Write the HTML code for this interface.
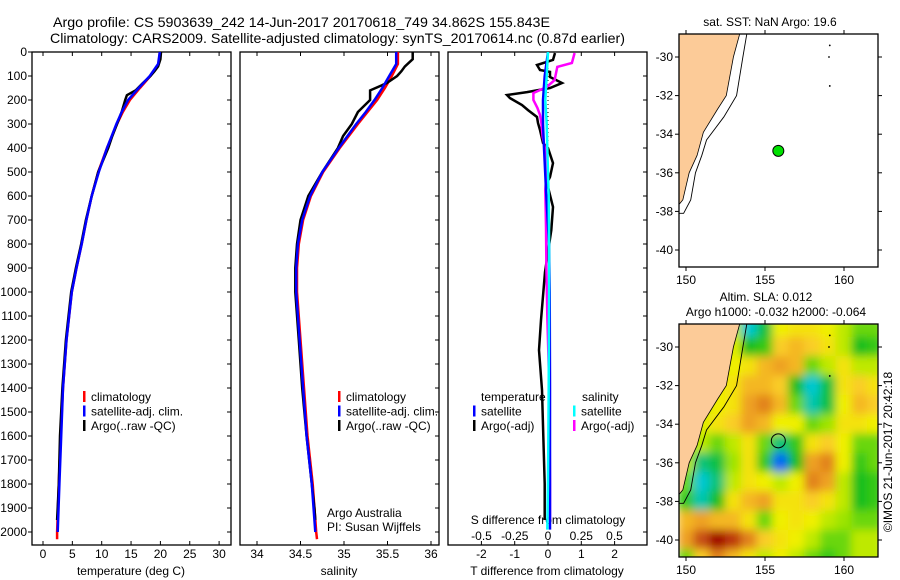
<!DOCTYPE html>
<html><head><meta charset="utf-8"><style>
html,body{margin:0;padding:0;background:#fff;}
svg{display:block;font-family:"Liberation Sans",sans-serif;}
</style></head><body>
<svg id="fig" width="900" height="580" viewBox="0 0 900 580" xmlns="http://www.w3.org/2000/svg">
<defs>
<clipPath id="clipT"><rect x="32" y="52" width="199" height="493"/></clipPath>
<clipPath id="clipS"><rect x="240" y="52" width="199" height="493"/></clipPath>
<clipPath id="clipD"><rect x="448" y="52" width="199" height="493"/></clipPath>
<clipPath id="clipM2"><rect x="679" y="324" width="199" height="233"/></clipPath>
<clipPath id="clipM1"><rect x="679" y="34" width="199" height="233"/></clipPath>
<filter id="blur" x="-5%" y="-5%" width="110%" height="110%"><feGaussianBlur stdDeviation="4.5"/></filter>
</defs>
<text x="53" y="27" font-size="14" textLength="497" lengthAdjust="spacingAndGlyphs">Argo profile: CS 5903639_242 14-Jun-2017 20170618_749 34.862S 155.843E</text>
<text x="50" y="43" font-size="14" textLength="575" lengthAdjust="spacingAndGlyphs">Climatology: CARS2009. Satellite-adjusted climatology: synTS_20170614.nc (0.87d earlier)</text>
<g id="axes"></g>
<g id="series"></g>
<g id="maps"></g>
</svg>
<script>
// ---- data ----
const climDepth=[0,50,100,150,200,250,300,400,500,600,700,800,900,1000,1200,1400,1600,1800,2000,2030];
const tempClim=[19.9,19.7,18.3,16.5,14.8,13.6,12.6,10.9,9.4,8.3,7.4,6.6,5.7,4.9,4.0,3.4,3.0,2.7,2.4,2.4];
const tempSat=[19.9,19.6,18.2,16.3,14.5,13.4,12.5,10.9,9.5,8.3,7.4,6.6,5.7,4.9,4.0,3.4,3.1,2.8,2.5,2.5];
const argoDepth=[0,30,60,80,100,130,160,180,200,250,300,350,400,500,600,700,800,900,1000,1200,1400,1600,1800,1900,1950];
const tempArgo=[20.1,20,19.6,19,18.3,17,15.8,14.3,14,13.4,12.6,11.8,11.1,9.4,8.3,7.3,6.5,5.6,4.8,3.9,3.3,2.9,2.7,2.5,2.4];
const salClim=[35.62,35.62,35.55,35.47,35.38,35.27,35.16,34.95,34.76,34.62,34.53,34.48,34.46,34.46,34.5,34.54,34.58,34.64,34.68,34.69];
const salSat=[35.6,35.6,35.52,35.44,35.35,35.25,35.14,34.94,34.75,34.61,34.52,34.47,34.45,34.45,34.49,34.53,34.57,34.63,34.67,34.67];
const salArgo=[35.79,35.79,35.7,35.66,35.61,35.49,35.3,35.3,35.3,35.16,35.09,34.99,34.93,34.75,34.59,34.5,34.46,34.44,34.44,34.48,34.52,34.57,34.63,34.66,34.67];
const dTDepth=[4,33,54,75,83,104,129,150,167,179,192,221,242,271,296,325,379,400,463,521,546,646,742,917,1117,1242,1408,1600,1800,1950];
const dTArgo=[0.21,0.15,-0.33,-0.24,0.06,0.06,0.42,0.06,-0.63,-1.23,-1.14,-0.78,-0.6,-0.33,-0.3,-0.24,-0.15,0,0.15,0.06,-0.03,0.15,0.1,-0.09,-0.21,-0.27,-0.18,-0.14,-0.1,-0.1];
const dSDepth=[4,46,62,117,146,171,200,233,262,296,354,438,492,575,729,900,1100,1400,1800,1950];
const dSArgo=[0.2,0.18,0.07,0.05,-0.01,-0.11,-0.11,-0.08,-0.06,-0.05,-0.04,-0.01,-0.01,-0.02,-0.015,-0.012,-0.005,0.01,0.015,0.015];
const satDiffDepth=[0,100,200,300,400,600,800,1000,1400,1800,1990];
const dTSat=[0,-0.1,-0.15,-0.15,-0.12,-0.05,0.03,0.05,0.06,0.06,0.06];
const dSSat=[0,-0.01,-0.02,-0.01,-0.005,0.005,0.008,0.008,0.005,0,-0.005];
const depthTicks=[0,100,200,300,400,500,600,700,800,900,1000,1100,1200,1300,1400,1500,1600,1700,1800,1900,2000];
const tempTicks=[0,5,10,15,20,25,30];
const salTicks=[34,34.5,35,35.5,36];
const dTTicks=[-2,-1,0,1,2];
const dSTicks=[-0.5,-0.25,0,0.25,0.5];
const dSTickLabels=["-0.5","-0.25","0","0.25","0.5"];
const lonTicks=[150,155,160];
const latTicks=[-30,-32,-34,-36,-38,-40];
const gridLons=[150,151,152,153,154,155,156,157,158,159,160,161,162];
const gridLats=[-29,-30,-31,-32,-33,-34,-35,-36,-37,-38,-39,-40,-41];
const slaGrid=[
[0,0,0,0,-0.2,-0.12,0.03,0.05,0.05,0.03,0,-0.05,-0.05],
[0,0,0,0.02,-0.1,-0.08,0.08,0.1,0.08,0.05,0,-0.1,-0.08],
[0,0,0,0.03,0.05,0.1,0.12,0.1,-0.05,0,0.05,0,0],
[0,0,0.03,0.05,0.1,0.1,0.08,-0.1,-0.2,-0.12,0.05,0.08,0.05],
[0,0,0.03,0.05,0.12,0.15,0.1,-0.05,-0.18,-0.12,0.03,0.1,0.08],
[0,0.02,0.05,0.08,0.12,0.1,0.03,0.03,-0.05,-0.02,0.05,0.05,0.03],
[0,0,-0.05,0,0.05,-0.05,-0.15,-0.08,0.05,0.08,0.03,-0.05,-0.05],
[0,-0.15,-0.12,-0.02,0.05,-0.08,-0.28,-0.1,0.12,0.15,0.03,-0.08,-0.05],
[-0.05,-0.2,-0.15,0,0.05,0.03,0,0.03,0.15,0.12,0,-0.1,-0.08],
[-0.08,-0.18,-0.1,0.05,0.1,0.12,0.05,0.05,0.08,0.05,0,-0.1,-0.08],
[0.1,0.12,0.1,0.1,0.05,-0.05,0.03,0.05,0.03,0,-0.02,-0.05,-0.05],
[0.12,0.2,0.3,0.22,0.15,0.08,0.05,0.03,0,-0.05,-0.05,0,0],
[-0.05,0.08,0.15,0.1,0.05,0,0.03,0,-0.05,-0.08,-0.05,0,0]];
const coastLon=[153.4,153.0,152.55,152.0,151.1,150.7,150.2,149.8,149.6];
const coastLat=[-28.8,-30,-32,-32.7,-33.9,-35.1,-36,-37.4,-37.6];
const contourLon=[153.85,153.6,153.2,152.4,151.3,151.0,150.6,150.3,149.85,149.56];
const contourLat=[-28.8,-30,-32,-33.1,-34.3,-35.1,-36,-37.4,-38.1,-38.1];
const argoLon=155.843, argoLat=-34.862;

// ---- scales ----
const NS="http://www.w3.org/2000/svg";
const yD=d=>52+d*0.24;
const xT=v=>43+v*5.87;
const xS=v=>257+(v-34)*87;
const xdT=v=>548+v*33.3;
const xdS=v=>548+v*133;
const mx=lon=>686+(lon-150)*15.8;
const myTop=lat=>57+(-30-lat)*19.3;
const myBot=lat=>347+(-30-lat)*19.3;
function el(tag,attrs,parent){const e=document.createElementNS(NS,tag);for(const k in attrs)e.setAttribute(k,attrs[k]);parent.appendChild(e);return e;}
const axes=document.getElementById('axes'), series=document.getElementById('series'), maps=document.getElementById('maps');

// ---- panels ----
const panels=[{x:32,name:'temperature-panel',ticks:tempTicks,labels:tempTicks.map(String),sx:xT,title:'temperature (deg C)'},
 {x:240,name:'salinity-panel',ticks:salTicks,labels:salTicks.map(String),sx:xS,title:'salinity'},
 {x:448,name:'difference-panel',ticks:dTTicks,labels:dTTicks.map(String),sx:xdT,title:'T difference from climatology'}];
panels.forEach(p=>{
 const g=el('g',{},axes);
 
 
 el('rect',{x:p.x,y:52,width:199,height:493,fill:'none',stroke:'#000','stroke-width':1.3},g);
 p.ticks.forEach((t,i)=>{
  const x=p.sx(t);
  el('line',{x1:x,x2:x,y1:545,y2:541,stroke:'#000'},g);
  el('line',{x1:x,x2:x,y1:52,y2:56,stroke:'#000'},g);
  const tx=el('text',{x:x,y:558,'font-size':12,'text-anchor':'middle'},g);tx.textContent=p.labels[i];
  
  
 });
 depthTicks.forEach(d=>{el('line',{x1:p.x+199,x2:p.x+195,y1:yD(d),y2:yD(d),stroke:'#000'},g);});
 const tt=el('text',{x:p.x+99,y:575,'font-size':12,'text-anchor':'middle'},g);tt.textContent=p.title;
 
 
});
depthTicks.forEach(d=>{
 el('line',{x1:28,x2:32,y1:yD(d),y2:yD(d),stroke:'#000'},axes);
 const t=el('text',{x:27,y:yD(d)+4,'font-size':12,'text-anchor':'end'},axes);t.textContent=d;
 
 
});
dSTicks.forEach((t,i)=>{
 const tx=el('text',{x:xdS(t),y:540,'font-size':12,'text-anchor':'middle'},axes);tx.textContent=dSTickLabels[i];
 
 
});
{const t=el('text',{x:548,y:524,'font-size':12,'text-anchor':'middle'},axes);t.textContent='S difference from climatology';
 
 }
el('line',{x1:548,x2:548,y1:52,y2:yD(420),stroke:'#000','stroke-dasharray':'1,3'},axes);

function line(xs,ds,sx,color,clip,name,w){
 const pts=xs.map((v,i)=>sx(v).toFixed(1)+','+yD(ds[i]).toFixed(1)).join(' ');
 const pl=el('polyline',{points:pts,fill:'none',stroke:color,'stroke-width':w||2.5,'clip-path':'url(#'+clip+')'},series);
 
 
}
line(tempClim,climDepth,xT,'#ff0000','clipT','temp-climatology-line');
line(tempArgo,argoDepth,xT,'#000','clipT','temp-argo-line');
line(tempSat,climDepth.slice(0,19),xT,'#0000ff','clipT','temp-satellite-line');
line(salClim,climDepth,xS,'#ff0000','clipS','sal-climatology-line');
line(salArgo,argoDepth,xS,'#000','clipS','sal-argo-line');
line(salSat,climDepth.slice(0,19),xS,'#0000ff','clipS','sal-satellite-line');
line(dTArgo,dTDepth,xdT,'#000','clipD','t-diff-argo-line');
line(dSArgo,dSDepth,xdS,'#ff00ff','clipD','s-diff-argo-line');
line(dTSat,satDiffDepth,xdT,'#0000ff','clipD','t-diff-satellite-line');
line(dSSat,satDiffDepth,xdS,'#00ffff','clipD','s-diff-satellite-line');

function legend(x,y,color,label,name){
 const g=el('g',{},axes);
 
 
 el('rect',{x:x,y:y-6,width:2.5,height:11,fill:color},g);
 const t=el('text',{x:x+8,y:y+4,'font-size':12},g);t.textContent=label;
}
[['#ff0000','climatology'],['#0000ff','satellite-adj. clim.'],['#000','Argo(..raw -QC)']].forEach((l,i)=>{
 legend(83,397+i*14.5,l[0],l[1],'temp-legend-entry');
 legend(338,397+i*14.5,l[0],l[1],'sal-legend-entry');
});
{const t=el('text',{x:481,y:401,'font-size':12},axes);t.textContent='temperature';
 }
{const t=el('text',{x:582,y:401,'font-size':12},axes);t.textContent='salinity';
 }
legend(473,411.5,'#0000ff','satellite','diff-legend-t-sat');
legend(473,426,'#000','Argo(-adj)','diff-legend-t-argo');
legend(573,411.5,'#00ffff','satellite','diff-legend-s-sat');
legend(573,426,'#ff00ff','Argo(-adj)','diff-legend-s-argo');
{const t=el('text',{x:327,y:517,'font-size':12},axes);t.textContent='Argo Australia';
 }
{const t=el('text',{x:327,y:531,'font-size':12},axes);t.textContent='PI: Susan Wijffels';
 }

// ---- maps ----
function slaColor(v){
 const st=[[-0.3,[0,80,255]],[-0.2,[0,200,210]],[-0.1,[20,190,30]],[-0.03,[140,225,0]],[0.03,[240,240,0]],[0.08,[250,205,40]],[0.13,[235,150,30]],[0.2,[200,80,20]],[0.27,[160,0,0]]];
 if(v<=st[0][0])return 'rgb('+st[0][1]+')';
 for(let i=1;i<st.length;i++){if(v<=st[i][0]){const a=st[i-1],b=st[i],f=(v-a[0])/(b[0]-a[0]);return 'rgb('+a[1].map((c,j)=>Math.round(c+(b[1][j]-c)*f)).join(',')+')';}}
 return 'rgb('+st[st.length-1][1]+')';
}
function drawMap(my,top,clip,name,heat,title1,title2){
 const g=el('g',{},maps);
 
 
 el('rect',{x:679,y:top,width:199,height:233,fill:'#fff'},g);
 if(heat){
  const hg=el('g',{'clip-path':'url(#'+clip+')'},g);
  const inner=el('g',{filter:'url(#blur)'},hg);
  gridLats.forEach((lat,r)=>gridLons.forEach((lon,c)=>{
   const cell=el('rect',{x:mx(lon-0.5)-0.5,y:my(lat+0.5)-0.5,width:15.8+1,height:19.3+1,fill:slaColor(slaGrid[r][c])},inner);
   
   
  }));
 }
 const cg=el('g',{'clip-path':'url(#'+clip+')'},g);
 const land=coastLon.map((l,i)=>mx(l)+','+my(coastLat[i])).join(' ')+' '+mx(149)+','+my(-37.6)+' '+mx(149)+','+my(-28)+' '+mx(153.4)+','+my(-28);
 const lp=el('polygon',{points:land,fill:'#fccb98',stroke:'#000','stroke-width':0.8},cg);
 
 
 el('polyline',{points:contourLon.map((l,i)=>mx(l)+','+my(contourLat[i])).join(' '),fill:'none',stroke:'#000','stroke-width':0.9},cg);
 [[159.1,-29.4],[159.05,-30],[159.1,-31.5]].forEach(p=>el('circle',{cx:mx(p[0]),cy:my(p[1]),r:0.9,fill:'#000'},cg));
 el('rect',{x:679,y:top,width:199,height:233,fill:'none',stroke:'#000','stroke-width':1.3},g);
 lonTicks.forEach(l=>{
  el('line',{x1:mx(l),x2:mx(l),y1:top,y2:top-4,stroke:'#000'},g);
  el('line',{x1:mx(l),x2:mx(l),y1:top+233,y2:top+237,stroke:'#000'},g);
  const t=el('text',{x:mx(l),y:top+250,'font-size':12,'text-anchor':'middle'},g);t.textContent=l;
  
 });
 latTicks.forEach(l=>{
  el('line',{x1:675,x2:679,y1:my(l),y2:my(l),stroke:'#000'},g);
  el('line',{x1:878,x2:882,y1:my(l),y2:my(l),stroke:'#000'},g);
  const t=el('text',{x:673,y:my(l)+4,'font-size':12,'text-anchor':'end'},g);t.textContent=l;
  
 });
 const dot=el('circle',{cx:mx(argoLon),cy:my(argoLat),r:heat?7:5.5,fill:heat?'none':'#00e000',stroke:'#000','stroke-width':1},g);
 
 
 const t1=el('text',{x:heat?766:770,y:heat?top-23:top-8,'font-size':12,'text-anchor':'middle'},g);t1.textContent=title1;
 
 if(title2){const t2=el('text',{x:776,y:top-8,'font-size':12,'text-anchor':'middle'},g);t2.textContent=title2;
  }
}
drawMap(myTop,34,'clipM1','sst-map',false,'sat. SST: NaN Argo: 19.6');
drawMap(myBot,324,'clipM2','sla-map',true,'Altim. SLA: 0.012','Argo h1000: -0.032 h2000: -0.064');
{const t=el('text',{x:0,y:0,'font-size':12,'text-anchor':'middle',transform:'translate(892,452) rotate(-90)'},maps);t.textContent='©IMOS 21-Jun-2017 20:42:18';
 }
</script>
</body></html>
